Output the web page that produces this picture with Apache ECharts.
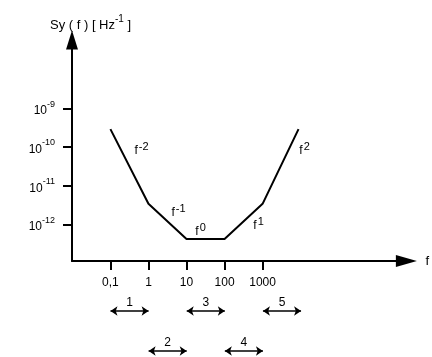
<!DOCTYPE html>
<html>
<head>
<meta charset="utf-8">
<script src="https://cdn.jsdelivr.net/npm/echarts@6/dist/echarts.min.js"></script>
<style>
  html, body { margin: 0; padding: 0; background: #fff; }
  #chart { width: 432px; height: 357px; }
</style>
</head>
<body>
<div id="chart"></div>
<script>
// Spectral density Sy(f): corner frequencies and levels of the power-law segments
const freqs = [0.1, 1, 10, 100, 1000, 8800];
const spectrum = [2.9e-10, 3.4e-12, 4.2e-13, 4.2e-13, 3.4e-12, 2.9e-10];
// Exponent of f on each segment
const slopeExponents = ['-2', '-1', '0', '1', '2'];

// Axis ticks
const xTickValues = [0.1, 1, 10, 100, 1000];
const xTickLabels = ['0,1', '1', '10', '100', '1000'];
const yTickValues = [1e-12, 1e-11, 1e-10, 1e-9];

// Frequency ranges marked under the axis
const rangeNames = ['1', '2', '3', '4', '5'];
const rangeStart = [0.1, 1, 10, 100, 1000];
const rangeEnd = [1, 10, 100, 1000, 10000];
const rangeRow = [0, 1, 0, 1, 0];

const FONT = 'Liberation Sans';
const INK = '#000';

// label offsets (px) of the slope annotations from each segment's midpoint
const slopeOffsets = [[12, -17], [11, -10], [-5, -9], [15, 3], [24, -17]];

const slopePoints = slopeExponents.map((e, i) => ({
  coord: [Math.sqrt(freqs[i] * freqs[i + 1]), Math.sqrt(spectrum[i] * spectrum[i + 1])],
  label: { offset: slopeOffsets[i], formatter: '{f|f}{s|' + e + '}' }
}));

const rangeLines = rangeNames.map((n, i) => ({
  name: n,
  coords: [[rangeStart[i], rangeRow[i] + 0.5], [rangeEnd[i], rangeRow[i] + 0.5]]
}));

const sameLog = (a, b) => Math.abs(Math.log10(a) - Math.log10(b)) < 1e-6;

const chart = echarts.init(document.getElementById('chart'), null, { renderer: 'canvas' });

chart.setOption({
  animation: false,
  backgroundColor: '#fff',
  textStyle: { fontFamily: FONT, color: INK },
  title: {
    left: 45,
    top: 9,
    text: '{t|Sy ( f ) [ Hz}{s|-1}{t| ]}',
    textStyle: {
      fontWeight: 'normal',
      rich: {
        t: { fontFamily: FONT, fontSize: 13, fontWeight: 'normal', color: INK, verticalAlign: 'bottom' },
        s: { fontFamily: FONT, fontSize: 10, fontWeight: 'normal', color: INK, verticalAlign: 'top', lineHeight: 18 }
      }
    }
  },
  grid: [
    { left: 72, top: 40, width: 335, height: 221 },
    { left: 72, top: 291, width: 335, height: 66 }
  ],
  xAxis: [
    {
      type: 'log',
      gridIndex: 0,
      min: Math.pow(10, -2.01),
      max: Math.pow(10, 6.78),
      name: 'f',
      nameLocation: 'end',
      nameGap: 19,
      nameTextStyle: { fontFamily: FONT, fontSize: 13, color: INK, verticalAlign: 'middle' },
      axisLine: {
        show: true, onZero: false,
        symbol: ['none', 'triangle'], symbolSize: [12, 21],
        lineStyle: { color: '#000', width: 2 }
      },
      axisTick: { show: true, customValues: xTickValues, length: 9, lineStyle: { color: '#000', width: 2 } },
      axisLabel: {
        show: true, customValues: xTickValues, margin: 16,
        fontFamily: FONT, fontSize: 12, color: INK,
        formatter: v => {
          const i = xTickValues.findIndex(t => sameLog(t, v));
          return i >= 0 ? xTickLabels[i] : '';
        }
      },
      splitLine: { show: false },
      minorTick: { show: false }
    },
    {
      type: 'log',
      gridIndex: 1,
      min: Math.pow(10, -2.01),
      max: Math.pow(10, 6.78),
      show: false
    }
  ],
  yAxis: [
    {
      type: 'log',
      gridIndex: 0,
      min: Math.pow(10, -12.946),
      max: Math.pow(10, -7.235),
      axisLine: {
        show: true, onZero: false,
        symbol: ['none', 'triangle'], symbolSize: [12, 19],
        lineStyle: { color: '#000', width: 2 }
      },
      axisTick: { show: true, customValues: yTickValues, length: 9, lineStyle: { color: '#000', width: 2 } },
      axisLabel: {
        show: true, customValues: yTickValues, margin: 17,
        formatter: v => '{b|10}{s|' + Math.round(Math.log10(v)) + '}',
        rich: {
          b: { fontFamily: FONT, fontSize: 12, color: INK, verticalAlign: 'bottom' },
          s: { fontFamily: FONT, fontSize: 9, color: INK, verticalAlign: 'top', lineHeight: 17 }
        }
      },
      splitLine: { show: false },
      minorTick: { show: false }
    },
    {
      type: 'value',
      gridIndex: 1,
      min: 0,
      max: 1.65,
      inverse: true,
      show: false
    }
  ],
  series: [
    {
      type: 'line',
      xAxisIndex: 0,
      yAxisIndex: 0,
      data: freqs.map((f, i) => [f, spectrum[i]]),
      showSymbol: false,
      lineStyle: { color: '#000', width: 2 },
      silent: true,
      z: 5,
      // f-power annotations beside each segment
      markPoint: {
        silent: true,
        symbol: 'circle',
        symbolSize: 0,
        itemStyle: { color: '#000', opacity: 1 },
        label: {
          show: true,
          position: [0, 0],
          align: 'center',
          verticalAlign: 'middle',
          color: INK,
          textBorderWidth: 0,
          rich: {
            f: { fontFamily: FONT, fontSize: 12, color: INK, verticalAlign: 'bottom', padding: [0, 1, 0, 0] },
            s: { fontFamily: FONT, fontSize: 11, color: INK, verticalAlign: 'top', lineHeight: 15 }
          }
        },
        data: slopePoints
      }
    },
    {
      type: 'lines',
      coordinateSystem: 'cartesian2d',
      xAxisIndex: 1,
      yAxisIndex: 1,
      symbol: ['arrow', 'arrow'],
      symbolSize: 7,
      silent: true,
      lineStyle: { color: INK, width: 1.5, opacity: 1 },
      label: {
        show: true,
        position: 'middle',
        formatter: '{b}',
        distance: 2,
        fontFamily: FONT,
        fontSize: 12,
        color: INK
      },
      data: rangeLines
    }
  ]
});
</script>
</body>
</html>
